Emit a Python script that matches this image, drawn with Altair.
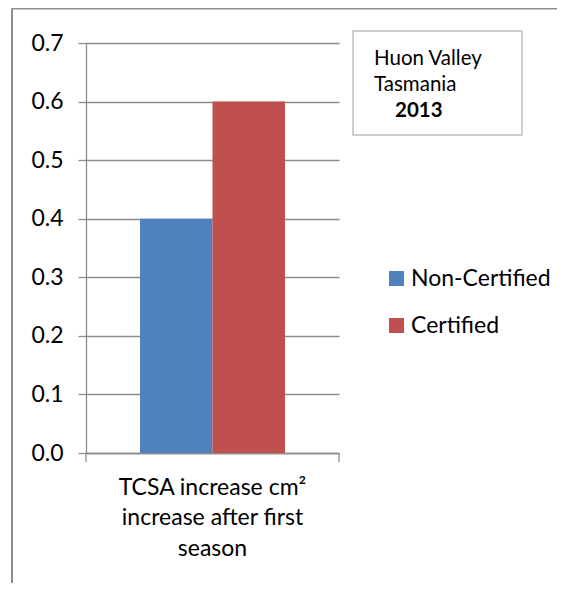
import altair as alt
import pandas as pd

# ---- data ----
category_lines = ["TCSA increase cm²", "increase after first", "season"]
series = ["Non-Certified", "Certified"]
values = [0.4, 0.6]
colors = ["#4F81BD", "#C0504D"]
y_ticks = [0.0, 0.1, 0.2, 0.3, 0.4, 0.5, 0.6, 0.7]
box_lines = ["Huon Valley", "Tasmania", "2013"]

category = "|".join(category_lines)
df = pd.DataFrame({"category": [category] * len(series), "series": series, "value": values})

W, H = 253, 410
PL, PT, PR, PB = 78, 35, 218, 130
GRAY = "#8c8c8c"
FONT = "Lato"
FS = 23

bars = alt.Chart(df).mark_bar().encode(
    x=alt.X(
        "category:N",
        scale=alt.Scale(paddingInner=0, paddingOuter=0.3724),
        axis=alt.Axis(
            title="",
            ticks=False,
            labelAngle=0,
            labelExpr="split(datum.label, '|')",
            labelLineHeight=30.5,
            labelFontSize=FS,
            labelFont=FONT,
            labelColor="#000000",
            labelPadding=23,
            labelLimit=1000,
            domainColor=GRAY,
            domainWidth=1.3,
        ),
    ),
    xOffset=alt.XOffset("series:N", sort=series, scale=alt.Scale(paddingInner=0, paddingOuter=0)),
    y=alt.Y(
        "value:Q",
        scale=alt.Scale(domain=[0, 0.7], nice=False),
        axis=alt.Axis(
            title="",
            values=y_ticks,
            format=".1f",
            tickSize=8,
            labelPadding=15,
            labelFontSize=FS,
            labelFont=FONT,
            labelColor="#000000",
            domainColor=GRAY,
            domainWidth=1.3,
            tickColor=GRAY,
            tickWidth=1.3,
            grid=True,
            gridColor=GRAY,
            gridWidth=1.3,
        ),
    ),
    color=alt.Color(
        "series:N",
        scale=alt.Scale(domain=series, range=colors),
        legend=alt.Legend(
            title=None,
            orient="none",
            legendX=299,
            legendY=224,
            symbolType="square",
            symbolSize=225,
            symbolStrokeWidth=0,
            symbolOpacity=1,
            labelFontSize=FS,
            labelFont=FONT,
            labelColor="#000000",
            labelOffset=3,
            rowPadding=23,
            padding=0,
        ),
    ),
)

one = pd.DataFrame({"k": [0]})

tick_left = alt.Chart(one).mark_rule(color=GRAY, strokeWidth=1.3).encode(
    x=alt.value(0), y=alt.value(H), y2=alt.value(H + 9)
)
tick_right = alt.Chart(one).mark_rule(color=GRAY, strokeWidth=1.3).encode(
    x=alt.value(W), y=alt.value(H), y2=alt.value(H + 9)
)

border_top = alt.Chart(one).mark_rule(color=GRAY, strokeWidth=2).encode(
    x=alt.value(-74), x2=alt.value(W + PR), y=alt.value(-34.5)
)
border_left = alt.Chart(one).mark_rule(color=GRAY, strokeWidth=2).encode(
    x=alt.value(-74), y=alt.value(-34.5), y2=alt.value(H + PB)
)

box = alt.Chart(one).mark_rect(fill="white", stroke="#c0c0c0", strokeWidth=1.5).encode(
    x=alt.value(267), x2=alt.value(436), y=alt.value(-12), y2=alt.value(92)
)

t1 = alt.Chart(one).mark_text(align="left", baseline="alphabetic", fontSize=20.5, font=FONT, color="#000000").encode(
    x=alt.value(288), y=alt.value(22), text=alt.value(box_lines[0])
)
t2 = alt.Chart(one).mark_text(align="left", baseline="alphabetic", fontSize=20.5, font=FONT, color="#000000").encode(
    x=alt.value(288), y=alt.value(48), text=alt.value(box_lines[1])
)
t3 = alt.Chart(one).mark_text(align="left", baseline="alphabetic", fontSize=20.5, font=FONT, fontWeight="bold", color="#000000").encode(
    x=alt.value(309), y=alt.value(74), text=alt.value(box_lines[2])
)

chart = alt.layer(
    border_top, border_left, bars, tick_left, tick_right, box, t1, t2, t3
).properties(
    width=W,
    height=H,
    padding={"left": PL, "top": PT, "right": PR, "bottom": PB},
    autosize=alt.AutoSizeParams(type="none"),
).configure_view(strokeWidth=0)

chart.save("out.html", embed_options={"renderer": "svg", "actions": False})
